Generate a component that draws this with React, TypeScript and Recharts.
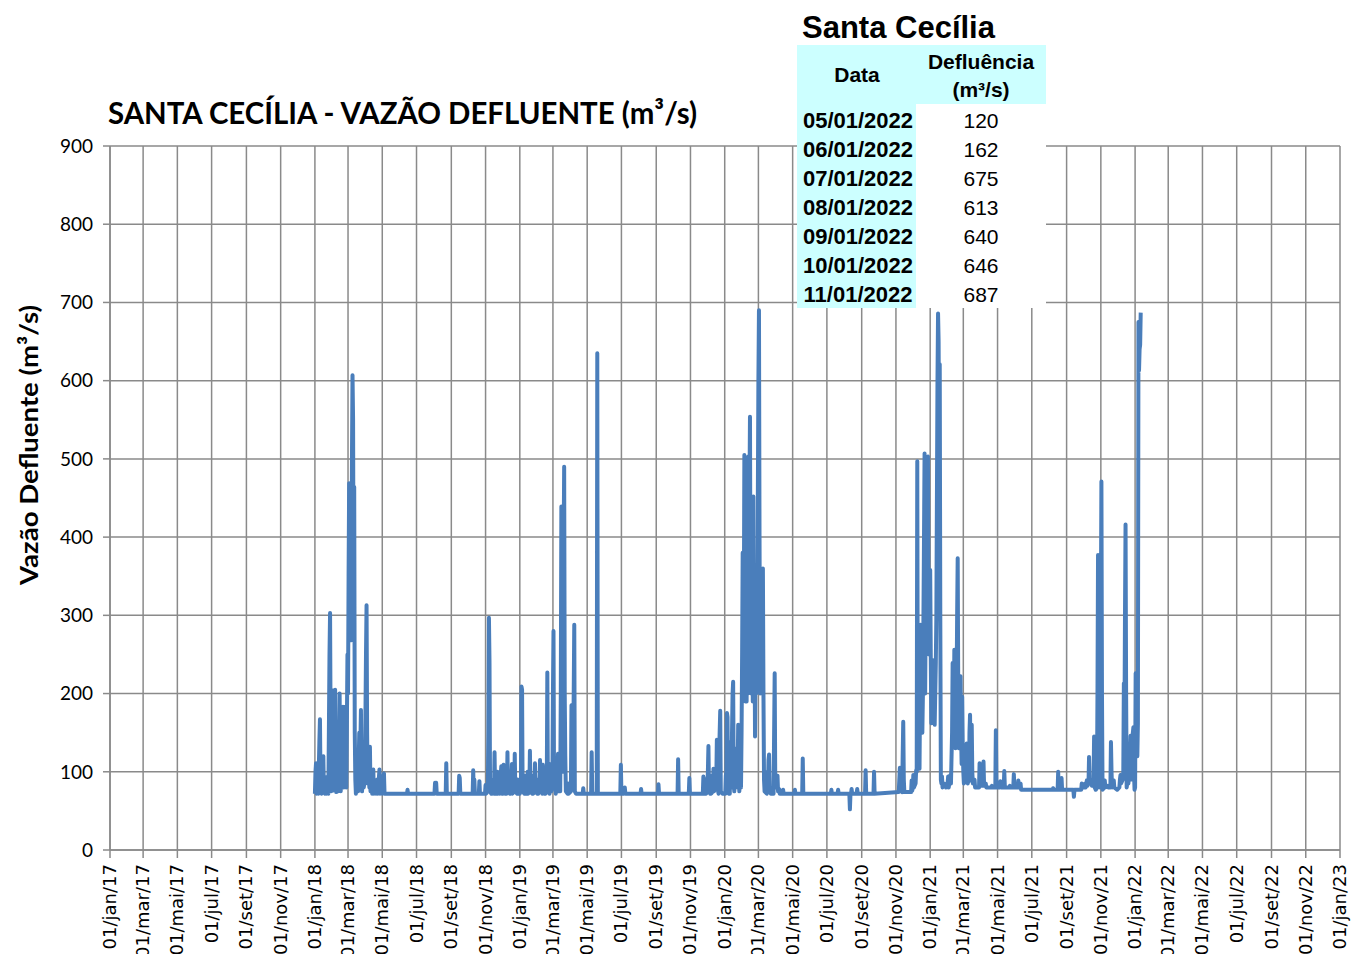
import { CartesianGrid, Line, LineChart, XAxis, YAxis } from 'recharts'

const MONTHS = ['jan', 'fev', 'mar', 'abr', 'mai', 'jun', 'jul', 'ago', 'set', 'out', 'nov', 'dez']

// daily outflow (m³/s), [mm-dd, value]
const FLOW_2018: [string, number][] = [
  ['01-01', 72], ['01-02', 100], ['01-03', 111], ['01-04', 72], ['01-06', 90], ['01-07', 72],
  ['01-09', 140], ['01-10', 167], ['01-11', 85], ['01-13', 72], ['01-15', 110], ['01-16', 120],
  ['01-17', 75], ['01-19', 72], ['01-20', 85], ['01-21', 93], ['01-22', 72], ['01-24', 90],
  ['01-25', 72], ['01-27', 250], ['01-28', 303], ['01-29', 150], ['01-30', 75], ['01-31', 150],
  ['02-01', 90], ['02-02', 204], ['02-03', 76], ['02-05', 150], ['02-06', 205], ['02-07', 100],
  ['02-08', 74], ['02-10', 150], ['02-11', 75], ['02-13', 130], ['02-14', 200], ['02-15', 110],
  ['02-16', 75], ['02-18', 150], ['02-19', 120], ['02-20', 183], ['02-21', 80], ['02-23', 150],
  ['02-24', 183], ['02-25', 110], ['02-26', 80], ['02-28', 250], ['03-01', 200], ['03-02', 350],
  ['03-03', 469], ['03-04', 280], ['03-05', 465], ['03-06', 300], ['03-07', 268], ['03-08', 500],
  ['03-09', 607], ['03-10', 550], ['03-11', 300], ['03-12', 464], ['03-13', 150], ['03-14', 90],
  ['03-15', 72], ['03-17', 110], ['03-18', 90], ['03-19', 75], ['03-21', 150], ['03-22', 90],
  ['03-24', 179], ['03-25', 100], ['03-26', 75], ['03-28', 136], ['03-29', 80], ['03-31', 90],
  ['04-02', 250], ['04-03', 313], ['04-04', 150], ['04-05', 85], ['04-07', 100], ['04-08', 80],
  ['04-09', 132], ['04-10', 75], ['04-12', 90], ['04-13', 72], ['04-15', 103], ['04-16', 72],
  ['04-19', 85], ['04-20', 72], ['04-22', 90], ['04-23', 72], ['04-26', 103], ['04-27', 72],
  ['04-30', 80], ['05-01', 72], ['05-03', 95], ['05-04', 98], ['05-05', 72], ['06-14', 72],
  ['06-15', 77], ['06-16', 72], ['08-02', 72], ['08-03', 86], ['08-04', 78], ['08-05', 86],
  ['08-06', 72], ['08-22', 72], ['08-23', 111], ['08-24', 72], ['09-14', 72], ['09-15', 95],
  ['09-16', 92], ['09-17', 72], ['10-09', 72], ['10-10', 102], ['10-11', 72], ['10-12', 90],
  ['10-13', 72], ['10-20', 72], ['10-21', 88], ['10-22', 72], ['10-31', 72], ['11-01', 83],
  ['11-02', 72], ['11-05', 75], ['11-06', 150], ['11-07', 297], ['11-08', 240], ['11-09', 75],
  ['11-11', 72], ['11-12', 85], ['11-13', 72], ['11-15', 90], ['11-16', 72], ['11-17', 125],
  ['11-18', 72], ['11-21', 72], ['11-22', 100], ['11-23', 72], ['11-25', 95], ['11-26', 72],
  ['11-29', 107], ['11-30', 72], ['12-01', 85], ['12-02', 72], ['12-03', 109], ['12-04', 75],
  ['12-06', 72], ['12-07', 95], ['12-08', 72], ['12-09', 75], ['12-10', 125], ['12-11', 75],
  ['12-14', 72], ['12-15', 100], ['12-16', 72], ['12-18', 110], ['12-19', 72], ['12-22', 75],
  ['12-23', 123], ['12-24', 75], ['12-27', 72], ['12-28', 90], ['12-29', 72],
]

const FLOW_2019: [string, number][] = [
  ['01-01', 72], ['01-03', 80], ['01-04', 209], ['01-05', 205], ['01-06', 75], ['01-09', 72],
  ['01-10', 95], ['01-11', 72], ['01-14', 72], ['01-15', 100], ['01-16', 72], ['01-18', 75],
  ['01-19', 127], ['01-20', 75], ['01-23', 72], ['01-24', 95], ['01-25', 72], ['01-27', 75],
  ['01-28', 111], ['01-29', 75], ['02-01', 72], ['02-02', 90], ['02-03', 72], ['02-05', 80],
  ['02-06', 115], ['02-07', 75], ['02-09', 90], ['02-10', 72], ['02-11', 109], ['02-12', 75],
  ['02-14', 72], ['02-15', 100], ['02-16', 72], ['02-18', 75], ['02-19', 227], ['02-20', 75],
  ['02-22', 90], ['02-23', 72], ['02-25', 110], ['02-26', 75], ['02-28', 80], ['03-01', 200],
  ['03-02', 280], ['03-03', 80], ['03-05', 95], ['03-06', 72], ['03-08', 100], ['03-09', 75],
  ['03-10', 123], ['03-11', 75], ['03-13', 90], ['03-14', 75], ['03-15', 200], ['03-16', 439],
  ['03-17', 300], ['03-18', 100], ['03-19', 130], ['03-20', 380], ['03-21', 490], ['03-22', 200],
  ['03-23', 120], ['03-24', 75], ['03-27', 72], ['03-28', 85], ['03-29', 72], ['04-02', 75],
  ['04-03', 185], ['04-04', 90], ['04-06', 120], ['04-07', 200], ['04-08', 288], ['04-09', 75],
  ['04-11', 72], ['04-23', 72], ['04-24', 79], ['04-25', 72], ['05-08', 72], ['05-09', 125],
  ['05-10', 72], ['05-18', 72], ['05-19', 635], ['05-20', 72], ['06-29', 72], ['06-30', 109],
  ['07-01', 72], ['07-06', 72], ['07-07', 80], ['07-08', 72], ['08-04', 72], ['08-05', 78],
  ['08-06', 72], ['09-04', 72], ['09-05', 84], ['09-06', 72], ['10-09', 72], ['10-10', 116],
  ['10-11', 72], ['10-29', 72], ['10-30', 92], ['10-31', 72], ['11-23', 72], ['11-24', 94],
  ['11-25', 72], ['11-27', 72], ['11-28', 90], ['11-29', 72], ['12-01', 75], ['12-02', 100],
  ['12-03', 133], ['12-04', 75], ['12-06', 72], ['12-07', 95], ['12-08', 72], ['12-11', 75],
  ['12-12', 104], ['12-13', 75], ['12-16', 80], ['12-17', 90], ['12-18', 141], ['12-19', 80],
  ['12-21', 72], ['12-22', 120], ['12-23', 150], ['12-24', 178], ['12-25', 75], ['12-28', 72],
  ['12-30', 72],
]

const FLOW_2020: [string, number][] = [
  ['01-02', 72], ['01-03', 95], ['01-04', 100], ['01-05', 175], ['01-06', 170], ['01-07', 80],
  ['01-08', 72], ['01-09', 105], ['01-10', 72], ['01-11', 138], ['01-12', 120], ['01-13', 80],
  ['01-14', 150], ['01-15', 200], ['01-16', 215], ['01-17', 90], ['01-18', 75], ['01-20', 110],
  ['01-21', 80], ['01-23', 130], ['01-24', 100], ['01-25', 160], ['01-26', 90], ['01-27', 75],
  ['01-29', 100], ['01-30', 80], ['01-31', 150], ['02-01', 250], ['02-02', 380], ['02-03', 200],
  ['02-04', 300], ['02-05', 505], ['02-06', 250], ['02-07', 190], ['02-08', 300], ['02-09', 190],
  ['02-10', 350], ['02-11', 200], ['02-12', 503], ['02-13', 300], ['02-14', 450], ['02-15', 554],
  ['02-16', 300], ['02-17', 200], ['02-18', 200], ['02-19', 350], ['02-20', 190], ['02-21', 452],
  ['02-22', 250], ['02-23', 300], ['02-24', 145], ['02-25', 250], ['02-26', 200], ['02-27', 362],
  ['02-28', 250], ['02-29', 450], ['03-01', 600], ['03-02', 690], ['03-03', 400], ['03-04', 200],
  ['03-05', 300], ['03-06', 230], ['03-07', 300], ['03-08', 200], ['03-09', 360], ['03-10', 200],
  ['03-11', 90], ['03-12', 75], ['03-16', 72], ['03-17', 100], ['03-18', 80], ['03-19', 115],
  ['03-20', 122], ['03-21', 80], ['03-23', 72], ['03-28', 72], ['03-29', 150], ['03-30', 226],
  ['03-31', 90], ['04-02', 80], ['04-04', 95], ['04-05', 75], ['04-07', 78], ['04-08', 72],
  ['04-13', 72], ['04-14', 77], ['04-15', 72], ['05-04', 72], ['05-05', 77], ['05-06', 72],
  ['05-18', 72], ['05-19', 117], ['05-20', 72], ['07-08', 72], ['07-09', 77], ['07-10', 72],
  ['07-20', 72], ['07-21', 77], ['07-22', 72], ['08-10', 72], ['08-11', 52], ['08-12', 72],
  ['08-13', 72], ['08-14', 78], ['08-15', 72], ['08-23', 72], ['08-24', 78], ['08-25', 72],
  ['09-07', 72], ['09-08', 102], ['09-09', 72], ['09-22', 72], ['09-23', 100], ['09-24', 72],
  ['11-06', 74], ['11-07', 90], ['11-08', 105], ['11-09', 80], ['11-12', 74], ['11-13', 120],
  ['11-14', 164], ['11-15', 90], ['11-16', 74], ['11-28', 74], ['11-29', 89], ['11-30', 76],
  ['12-01', 80], ['12-02', 96], ['12-03', 80], ['12-06', 85], ['12-07', 102], ['12-08', 100],
  ['12-09', 497], ['12-10', 110], ['12-11', 104], ['12-12', 200], ['12-13', 104], ['12-14', 200],
  ['12-15', 288], ['12-16', 200], ['12-17', 250], ['12-18', 150], ['12-19', 197], ['12-20', 300],
  ['12-21', 400], ['12-22', 507], ['12-23', 200], ['12-24', 300], ['12-25', 275], ['12-26', 400],
  ['12-27', 500], ['12-28', 503], ['12-29', 300], ['12-30', 250], ['12-31', 358],
]

const FLOW_2021: [string, number][] = [
  ['01-01', 358], ['01-02', 250], ['01-03', 162], ['01-04', 200], ['01-05', 243], ['01-06', 180],
  ['01-07', 200], ['01-08', 240], ['01-09', 160], ['01-10', 200], ['01-11', 238], ['01-12', 300],
  ['01-13', 450], ['01-14', 600], ['01-15', 686], ['01-16', 650], ['01-17', 500], ['01-18', 621],
  ['01-19', 300], ['01-20', 90], ['01-21', 85], ['01-22', 94], ['01-23', 80], ['01-26', 85],
  ['01-29', 80], ['02-01', 85], ['02-02', 94], ['02-03', 80], ['02-05', 90], ['02-06', 96],
  ['02-07', 85], ['02-09', 150], ['02-10', 239], ['02-11', 200], ['02-12', 150], ['02-13', 256],
  ['02-14', 200], ['02-15', 130], ['02-16', 155], ['02-17', 200], ['02-18', 300], ['02-19', 373],
  ['02-20', 200], ['02-21', 130], ['02-22', 160], ['02-23', 130], ['02-24', 222], ['02-25', 150],
  ['02-26', 110], ['02-27', 196], ['02-28', 130], ['03-01', 100], ['03-02', 85], ['03-04', 100],
  ['03-05', 88], ['03-06', 110], ['03-07', 136], ['03-08', 90], ['03-09', 85], ['03-10', 110],
  ['03-11', 88], ['03-12', 150], ['03-13', 173], ['03-14', 110], ['03-15', 130], ['03-16', 160],
  ['03-17', 100], ['03-18', 85], ['03-19', 85], ['03-21', 90], ['03-22', 80], ['03-29', 80],
  ['03-30', 111], ['03-31', 82], ['04-05', 82], ['04-06', 113], ['04-07', 82], ['04-10', 85],
  ['04-11', 80], ['04-20', 80], ['04-21', 82], ['04-22', 80], ['04-27', 80], ['04-28', 153],
  ['04-29', 80], ['05-05', 80], ['05-06', 88], ['05-07', 80], ['05-12', 80], ['05-13', 101],
  ['05-14', 80], ['05-22', 80], ['05-23', 82], ['05-24', 80], ['05-29', 80], ['05-30', 97],
  ['05-31', 80], ['06-06', 80], ['06-07', 89], ['06-08', 80], ['06-11', 85], ['06-12', 77],
  ['08-07', 77], ['08-08', 79], ['08-09', 77], ['08-16', 77], ['08-17', 100], ['08-18', 77],
  ['08-22', 77], ['08-23', 92], ['08-24', 77], ['09-13', 77], ['09-14', 68], ['09-15', 77],
  ['09-27', 77], ['09-28', 85], ['09-29', 80], ['10-03', 80], ['10-04', 85], ['10-05', 80],
  ['10-06', 82], ['10-07', 89], ['10-08', 82], ['10-10', 85], ['10-11', 119], ['10-12', 85],
  ['10-15', 89], ['10-16', 82], ['10-19', 90], ['10-20', 145], ['10-21', 80], ['10-23', 77],
  ['10-25', 80], ['10-26', 200], ['10-27', 377], ['10-28', 300], ['10-29', 80], ['10-31', 90],
  ['11-01', 300], ['11-02', 471], ['11-03', 200], ['11-04', 77], ['11-07', 80], ['11-08', 89],
  ['11-09', 80], ['11-13', 82], ['11-14', 80], ['11-18', 80], ['11-19', 138], ['11-20', 100],
  ['11-21', 80], ['11-24', 89], ['11-25', 80], ['11-30', 77], ['12-04', 80], ['12-05', 90],
  ['12-06', 96], ['12-07', 85], ['12-10', 90], ['12-11', 100], ['12-12', 213], ['12-13', 150],
  ['12-14', 300], ['12-15', 416], ['12-16', 200], ['12-17', 80], ['12-19', 90], ['12-20', 85],
  ['12-22', 100], ['12-23', 120], ['12-24', 146], ['12-25', 100], ['12-26', 90], ['12-27', 130],
  ['12-28', 150], ['12-29', 157], ['12-30', 100], ['12-31', 77],
]

const FLOW_2022: [string, number][] = [
  ['01-01', 80], ['01-02', 226], ['01-03', 140], ['01-04', 150], ['01-05', 120], ['01-06', 162],
  ['01-07', 675], ['01-08', 613], ['01-09', 640], ['01-10', 646], ['01-11', 687],
]

const FLOW_BY_YEAR: [number, [string, number][]][] = [
  [2018, FLOW_2018],
  [2019, FLOW_2019],
  [2020, FLOW_2020],
  [2021, FLOW_2021],
  [2022, FLOW_2022],
]

const Y_TICKS = [0, 100, 200, 300, 400, 500, 600, 700, 800, 900]
// 1st of every other month, jan/17 .. jan/23
const X_TICKS = Array.from({ length: 37 }, (_, i) => Date.UTC(2017, i * 2, 1))

const TABLE_DATES = ['05/01/2022', '06/01/2022', '07/01/2022', '08/01/2022', '09/01/2022', '10/01/2022', '11/01/2022']
const TABLE_FLOWS = [120, 162, 675, 613, 640, 646, 687]

const toTime = (year: number, md: string) => {
  const [m, d] = md.split('-').map(Number)
  return Date.UTC(year, m - 1, d)
}

const data = FLOW_BY_YEAR.flatMap(([year, rows]) =>
  rows.map(([md, v]) => ({ t: toTime(year, md), v }))
)

const GRID = '#8a8a8a'
const LINE = '#4a7ebb'
const CYAN = '#ccffff'

function fmtDate(t: number) {
  const d = new Date(t)
  return `01/${MONTHS[d.getUTCMonth()]}/${String(d.getUTCFullYear()).slice(2)}`
}

function DateTick({ x, y, payload }: any) {
  return (
    <text
      x={x}
      y={y}
      dy={6}
      transform={`rotate(-90, ${x}, ${y})`}
      textAnchor="end"
      fontFamily="DejaVu Sans"
      fontSize={18}
      fill="#000"
    >
      {fmtDate(payload.value)}
    </text>
  )
}

export default function App() {
  return (
    <div style={{ position: 'absolute', left: 0, top: 0, width: 1353, height: 954, background: '#fff' }}>
      <LineChart
        width={1353}
        height={954}
        data={data}
        margin={{ top: 146, right: 13, bottom: 0, left: 10 }}
      >
        <CartesianGrid stroke={GRID} strokeWidth={1.5} />
        <XAxis
          dataKey="t"
          type="number"
          domain={[X_TICKS[0], X_TICKS[X_TICKS.length - 1]]}
          ticks={X_TICKS}
          interval={0}
          height={104}
          tickSize={8}
          tickMargin={6}
          axisLine={{ stroke: GRID, strokeWidth: 1.5 }}
          tickLine={{ stroke: GRID, strokeWidth: 1.5 }}
          tick={<DateTick />}
        />
        <YAxis
          type="number"
          domain={[0, 900]}
          ticks={Y_TICKS}
          interval={0}
          width={100}
          tickSize={7}
          tickMargin={10}
          axisLine={{ stroke: GRID, strokeWidth: 1.5 }}
          tickLine={{ stroke: GRID, strokeWidth: 1.5 }}
          tick={{ fontFamily: 'Lato', fontSize: 19, fill: '#000' }}
        />
        <Line
          dataKey="v"
          type="linear"
          stroke={LINE}
          strokeWidth={4}
          strokeLinejoin="round"
          dot={false}
          isAnimationActive={false}
        />
      </LineChart>

      <svg
        width={1353}
        height={954}
        style={{ position: 'absolute', left: 0, top: 0, pointerEvents: 'none' }}
      >
        <text x={108} y={124} fontFamily="Lato" fontWeight={700} fontSize={31} textLength={589} lengthAdjust="spacingAndGlyphs">
          SANTA CECÍLIA - VAZÃO DEFLUENTE (m³/s)
        </text>
        <text
          x={38}
          y={445}
          transform="rotate(-90, 38, 445)"
          textAnchor="middle"
          fontFamily="Lato"
          fontWeight={700}
          fontSize={25}
          textLength={280}
          lengthAdjust="spacingAndGlyphs"
        >
          Vazão Defluente (m³/s)
        </text>

        <g fontFamily="'Liberation Sans', Arial, sans-serif" fill="#000">
          <text x={802} y={38} fontSize={31} fontWeight={700}>Santa Cecília</text>
          <rect x={797} y={45} width={249} height={59} fill={CYAN} />
          <rect x={797} y={104} width={119} height={204} fill={CYAN} />
          <rect x={916} y={104} width={130} height={204} fill="#fff" />
          <text x={857} y={82} fontSize={21} fontWeight={700} textAnchor="middle">Data</text>
          <text x={981} y={69} fontSize={21} fontWeight={700} textAnchor="middle">Defluência</text>
          <text x={981} y={97} fontSize={21} fontWeight={700} textAnchor="middle">(m³/s)</text>
          {TABLE_DATES.map((d, i) => (
            <g key={d}>
              <text x={858} y={128 + i * 29} fontSize={22} fontWeight={700} textAnchor="middle">{d}</text>
              <text x={981} y={128 + i * 29} fontSize={21} textAnchor="middle">{TABLE_FLOWS[i]}</text>
            </g>
          ))}
        </g>
      </svg>
    </div>
  )
}
